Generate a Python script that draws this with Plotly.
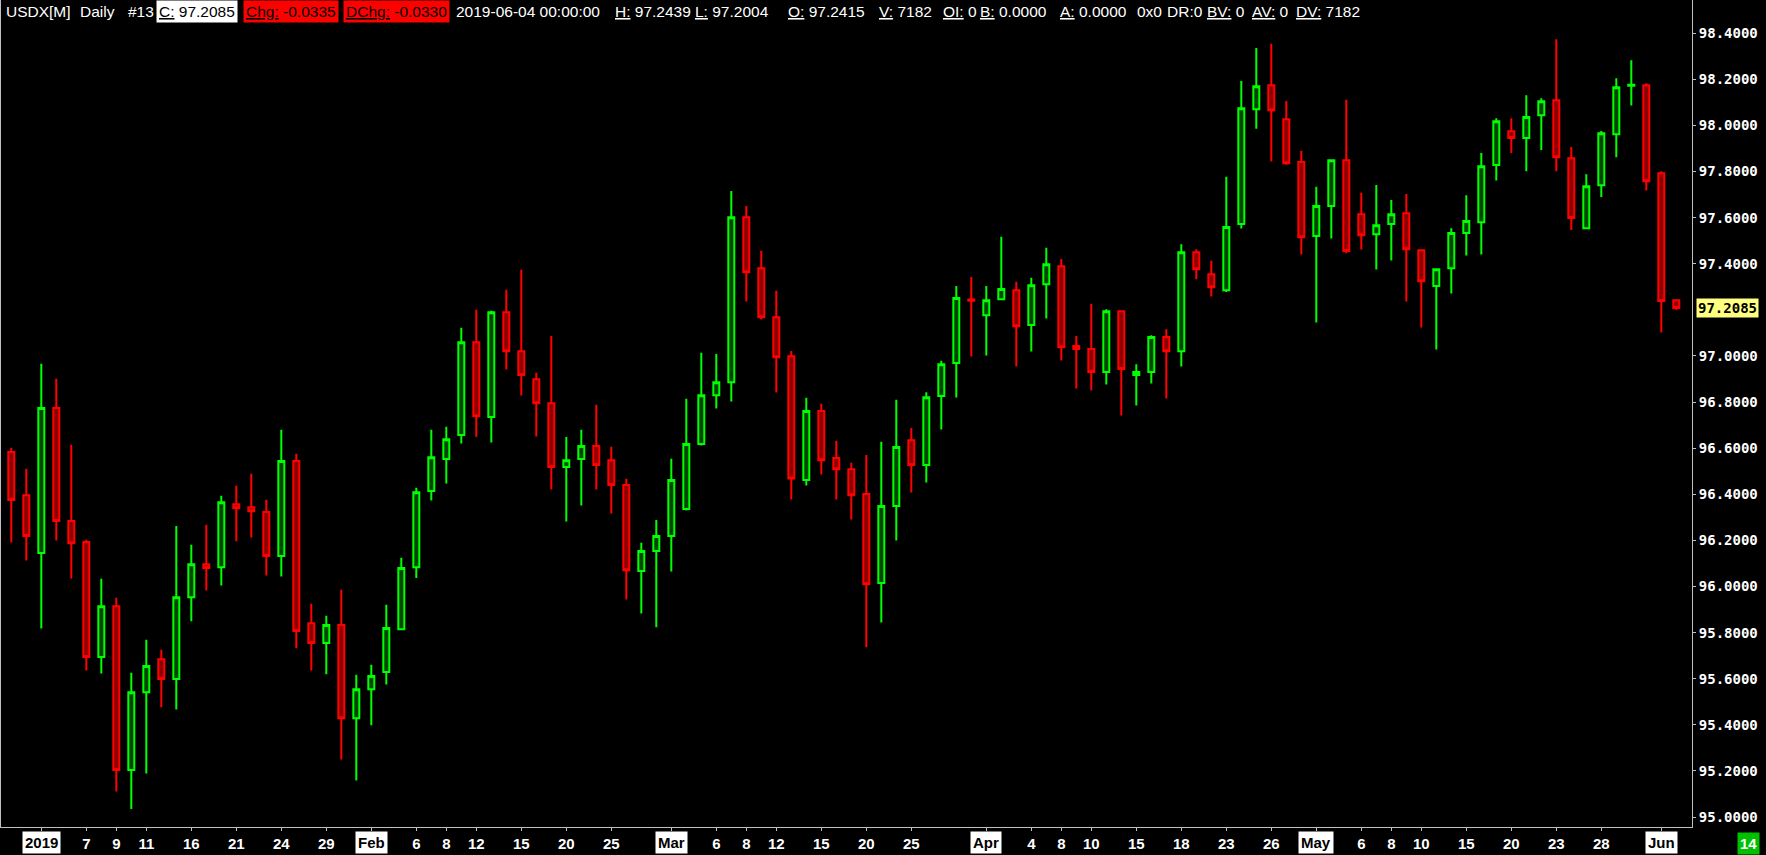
import plotly.graph_objects as go

# ---------------- data ----------------
month_days = {
    "2018-12": [28, 31],
    "2019-01": [2, 3, 4, 7, 8, 9, 10, 11, 14, 15, 16, 17, 18, 21, 22, 23, 24, 25, 28, 29, 30, 31],
    "2019-02": [1, 4, 5, 6, 7, 8, 11, 12, 13, 14, 15, 18, 19, 20, 21, 22, 25, 26, 27, 28],
    "2019-03": [1, 4, 5, 6, 7, 8, 11, 12, 13, 14, 15, 18, 19, 20, 21, 22, 25, 26, 27, 28, 29],
    "2019-04": [1, 2, 3, 4, 5, 8, 9, 10, 11, 12, 15, 16, 17, 18, 19, 22, 23, 24, 25, 26, 29, 30],
    "2019-05": [1, 2, 3, 6, 7, 8, 9, 10, 13, 14, 15, 16, 17, 20, 21, 22, 23, 24, 27, 28, 29, 30, 31],
    "2019-06": [3, 4],
}
dates = [f"{m}-{d:02d}" for m, days in month_days.items() for d in days]

open_ = [96.583, 96.396, 96.145, 96.774, 96.284, 96.193, 95.694, 95.915, 95.204, 95.542,
         95.685, 95.599, 95.954, 96.097, 96.084, 96.357, 96.344, 96.323, 96.132, 96.544,
         95.841, 95.755, 95.833, 95.429, 95.555, 95.629, 95.815, 96.084, 96.414, 96.553,
         96.657, 97.060, 96.735, 97.190, 97.021, 96.899, 96.795, 96.518, 96.553, 96.609,
         96.548, 96.440, 96.067, 96.154, 96.219, 96.336, 96.618, 96.830, 96.886, 97.602,
         97.381, 97.168, 96.999, 96.462, 96.761, 96.557, 96.509, 96.401, 96.015, 96.349,
         96.635, 96.527, 96.826, 96.969, 97.245, 97.177, 97.246, 97.285, 97.134, 97.311,
         97.389, 97.043, 97.030, 96.930, 97.194, 96.917, 96.930, 97.082, 97.021, 97.450,
         97.355, 97.285, 97.572, 98.070, 98.174, 98.027, 97.841, 97.520, 97.650, 97.849,
         97.615, 97.528, 97.572, 97.619, 97.459, 97.303, 97.381, 97.533, 97.580, 97.828,
         97.975, 97.945, 98.044, 98.109, 97.858, 97.554, 97.741, 97.962, 98.172, 98.174,
         97.793, 97.2415]
high = [96.602, 96.511, 96.966, 96.901, 96.615, 96.203, 96.034, 95.951, 95.626, 95.769,
        95.726, 96.263, 96.181, 96.268, 96.394, 96.437, 96.489, 96.376, 96.680, 96.576,
        95.925, 95.873, 95.986, 95.617, 95.661, 95.921, 96.125, 96.428, 96.680, 96.693,
        97.122, 97.200, 97.196, 97.287, 97.374, 96.927, 97.087, 96.649, 96.680, 96.788,
        96.606, 96.467, 96.190, 96.289, 96.554, 96.814, 97.014, 97.009, 97.716, 97.651,
        97.456, 97.283, 97.022, 96.819, 96.793, 96.632, 96.537, 96.571, 96.628, 96.810,
        96.688, 96.843, 96.979, 97.304, 97.343, 97.304, 97.517, 97.322, 97.339, 97.469,
        97.421, 97.087, 97.226, 97.203, 97.194, 96.964, 97.090, 97.116, 97.485, 97.463,
        97.413, 97.777, 98.193, 98.336, 98.354, 98.106, 97.890, 97.734, 97.849, 98.111,
        97.708, 97.742, 97.677, 97.703, 97.459, 97.381, 97.554, 97.697, 97.880, 98.031,
        98.031, 98.131, 98.118, 98.374, 97.906, 97.788, 97.976, 98.205, 98.283, 98.183,
        97.801, 97.2439]
low = [96.191, 96.113, 95.818, 96.200, 96.035, 95.636, 95.623, 95.111, 95.035, 95.189,
       95.476, 95.467, 95.849, 95.983, 96.005, 96.196, 96.213, 96.048, 96.044, 95.732,
       95.636, 95.619, 95.250, 95.159, 95.398, 95.575, 95.811, 96.037, 96.373, 96.447,
       96.620, 96.649, 96.625, 96.941, 96.829, 96.651, 96.421, 96.282, 96.352, 96.421,
       96.317, 95.944, 95.883, 95.823, 96.065, 96.330, 96.612, 96.772, 96.803, 97.236,
       97.158, 96.842, 96.378, 96.438, 96.486, 96.378, 96.291, 95.737, 95.844, 96.200,
       96.408, 96.451, 96.681, 96.820, 96.998, 97.002, 97.246, 96.954, 97.019, 97.163,
       96.980, 96.859, 96.850, 96.876, 96.742, 96.785, 96.881, 96.816, 96.954, 97.333,
       97.258, 97.277, 97.553, 97.986, 97.843, 97.829, 97.440, 97.145, 97.509, 97.446,
       97.462, 97.375, 97.414, 97.236, 97.124, 97.028, 97.271, 97.436, 97.440, 97.761,
       97.880, 97.801, 97.893, 97.801, 97.546, 97.550, 97.689, 97.862, 98.086, 97.718,
       97.102, 97.2004]
close = [96.375, 96.219, 96.774, 96.284, 96.188, 95.694, 95.915, 95.204, 95.542, 95.655,
         95.599, 95.954, 96.097, 96.080, 96.366, 96.340, 96.327, 96.132, 96.544, 95.807,
         95.755, 95.833, 95.429, 95.555, 95.612, 95.820, 96.080, 96.409, 96.561, 96.639,
         97.060, 96.739, 97.190, 97.021, 96.917, 96.795, 96.518, 96.548, 96.609, 96.527,
         96.440, 96.071, 96.154, 96.219, 96.462, 96.618, 96.830, 96.886, 97.602, 97.363,
         97.168, 96.995, 96.469, 96.761, 96.548, 96.509, 96.396, 96.010, 96.349, 96.605,
         96.527, 96.821, 96.964, 97.251, 97.240, 97.242, 97.290, 97.129, 97.307, 97.398,
         97.038, 97.030, 96.930, 97.194, 96.943, 96.930, 97.082, 97.021, 97.450, 97.376,
         97.298, 97.559, 98.075, 98.170, 98.066, 97.836, 97.515, 97.650, 97.849, 97.455,
         97.524, 97.567, 97.615, 97.463, 97.324, 97.376, 97.533, 97.585, 97.823, 98.018,
         97.945, 98.036, 98.105, 97.862, 97.598, 97.736, 97.966, 98.166, 98.176, 97.758,
         97.238, 97.2085]

day_ticks = ["2019-01-07", "2019-01-09", "2019-01-11", "2019-01-16", "2019-01-21", "2019-01-24", "2019-01-29",
             "2019-02-06", "2019-02-08", "2019-02-12", "2019-02-15", "2019-02-20", "2019-02-25",
             "2019-03-06", "2019-03-08", "2019-03-12", "2019-03-15", "2019-03-20", "2019-03-25",
             "2019-04-04", "2019-04-08", "2019-04-10", "2019-04-15", "2019-04-18", "2019-04-23", "2019-04-26",
             "2019-05-06", "2019-05-08", "2019-05-10", "2019-05-15", "2019-05-20", "2019-05-23", "2019-05-28"]
day_labels = ["7", "9", "11", "16", "21", "24", "29",
              "6", "8", "12", "15", "20", "25",
              "6", "8", "12", "15", "20", "25",
              "4", "8", "10", "15", "18", "23", "26",
              "6", "8", "10", "15", "20", "23", "28"]
month_ticks = ["2019-01-02", "2019-02-01", "2019-03-01", "2019-04-01", "2019-05-01", "2019-06-03"]
month_labels = ["2019", "Feb", "Mar", "Apr", "May", "Jun"]

price_ticks = [95.0, 95.2, 95.4, 95.6, 95.8, 96.0, 96.2, 96.4, 96.6, 96.8, 97.0,
               97.4, 97.6, 97.8, 98.0, 98.2, 98.4]
last_price = 97.2085

header = [  # (left px, text, background)
    (5, "USDX[M]", None), (79, "Daily", None), (127, "#13", None),
    (156, "<u>C:</u> 97.2085", "#FFFFFF"),
    (243, "<u>Chg:</u> -0.0335", "#FF0000"),
    (343, "<u>DChg:</u> -0.0330", "#FF0000"),
    (455, "2019-06-04 00:00:00", None),
    (614, "<u>H:</u> 97.2439", None), (694, "<u>L:</u> 97.2004", None),
    (787, "<u>O:</u> 97.2415", None), (878, "<u>V:</u> 7182", None),
    (942, "<u>OI:</u> 0", None), (979, "<u>B:</u> 0.0000", None),
    (1059, "<u>A:</u> 0.0000", None), (1136, "0x0", None), (1166, "DR:0", None),
    (1206, "<u>BV:</u> 0", None), (1251, "<u>AV:</u> 0", None), (1295, "<u>DV:</u> 7182", None),
]

# ---------------- figure ----------------
W, H = 1766, 855
ML, MR, MT, MB = 1, 74, 0, 28
PW = W - ML - MR

fig = go.Figure(go.Candlestick(
    x=dates, open=open_, high=high, low=low, close=close,
    increasing=dict(line=dict(color="#00FF00", width=2), fillcolor="#004400"),
    decreasing=dict(line=dict(color="#FF0000", width=2), fillcolor="#8B0000"),
    whiskerwidth=0, showlegend=False, hoverinfo="skip",
))

axis_col = "#C0C0C0"
fig.update_layout(
    width=W, height=H, margin=dict(l=ML, r=MR, t=MT, b=MB, pad=0),
    paper_bgcolor="black", plot_bgcolor="black",
    boxgap=0.43,
    xaxis=dict(
        type="category", categoryorder="array", categoryarray=dates,
        range=[-0.687, 112.047], rangeslider=dict(visible=False),
        tickmode="array", tickvals=day_ticks + month_ticks,
        ticktext=day_labels + [""] * len(month_ticks),
        ticks="outside", ticklen=3, tickcolor=axis_col,
        showline=True, linecolor=axis_col, linewidth=1,
        showgrid=False, zeroline=False,
        tickfont=dict(family="Liberation Sans", size=15, color="white", weight="bold"),
    ),
    yaxis=dict(
        side="right", range=[94.957, 98.544],
        tickmode="array", tickvals=price_ticks,
        ticktext=[f"{v:.4f}" for v in price_ticks],
        ticks="outside", ticklen=3, tickcolor=axis_col,
        showline=True, mirror=True, linecolor=axis_col, linewidth=1,
        showgrid=False, zeroline=False,
        tickfont=dict(family="DejaVu Sans Mono", size=14, color="white", weight="bold"),
    ),
    font=dict(family="Liberation Sans", color="white"),
)

ann = []
hfont = dict(family="Liberation Sans", size=15.5)
for px, txt, bg in header:
    ann.append(dict(
        xref="paper", yref="paper", x=(px - ML) / PW, y=1, xanchor="left", yanchor="middle",
        yshift=-11, text=txt, showarrow=False,
        font=dict(hfont, color="black" if bg else "white"),
        bgcolor=bg if bg else "rgba(0,0,0,0)", borderpad=2 if bg else 0,
    ))

for d, lab in zip(month_ticks, month_labels):
    ann.append(dict(
        xref="x", yref="paper", x=d, y=0, xanchor="center", yanchor="top", yshift=-4,
        text=lab, showarrow=False, bgcolor="white", borderpad=2,
        font=dict(family="Liberation Sans", size=15, color="black", weight="bold"),
    ))

ann.append(dict(
    xref="paper", yref="y", x=1, y=last_price, xanchor="left", yanchor="middle", xshift=4,
    text=f"{last_price:.4f}", showarrow=False, bgcolor="#FFFF80", borderpad=1,
    font=dict(family="DejaVu Sans Mono", size=14, color="black", weight="bold"),
))
ann.append(dict(
    xref="paper", yref="paper", x=1, y=0, xanchor="left", yanchor="top", xshift=45, yshift=-5,
    text="14", showarrow=False, bgcolor="#00C000", borderpad=2,
    font=dict(family="Liberation Sans", size=15, color="white", weight="bold"),
))
fig.update_layout(annotations=ann)

fig.write_html("out.html", config=dict(displayModeBar=False),
               post_script="document.body.style.margin='0';document.body.style.background='black';")
